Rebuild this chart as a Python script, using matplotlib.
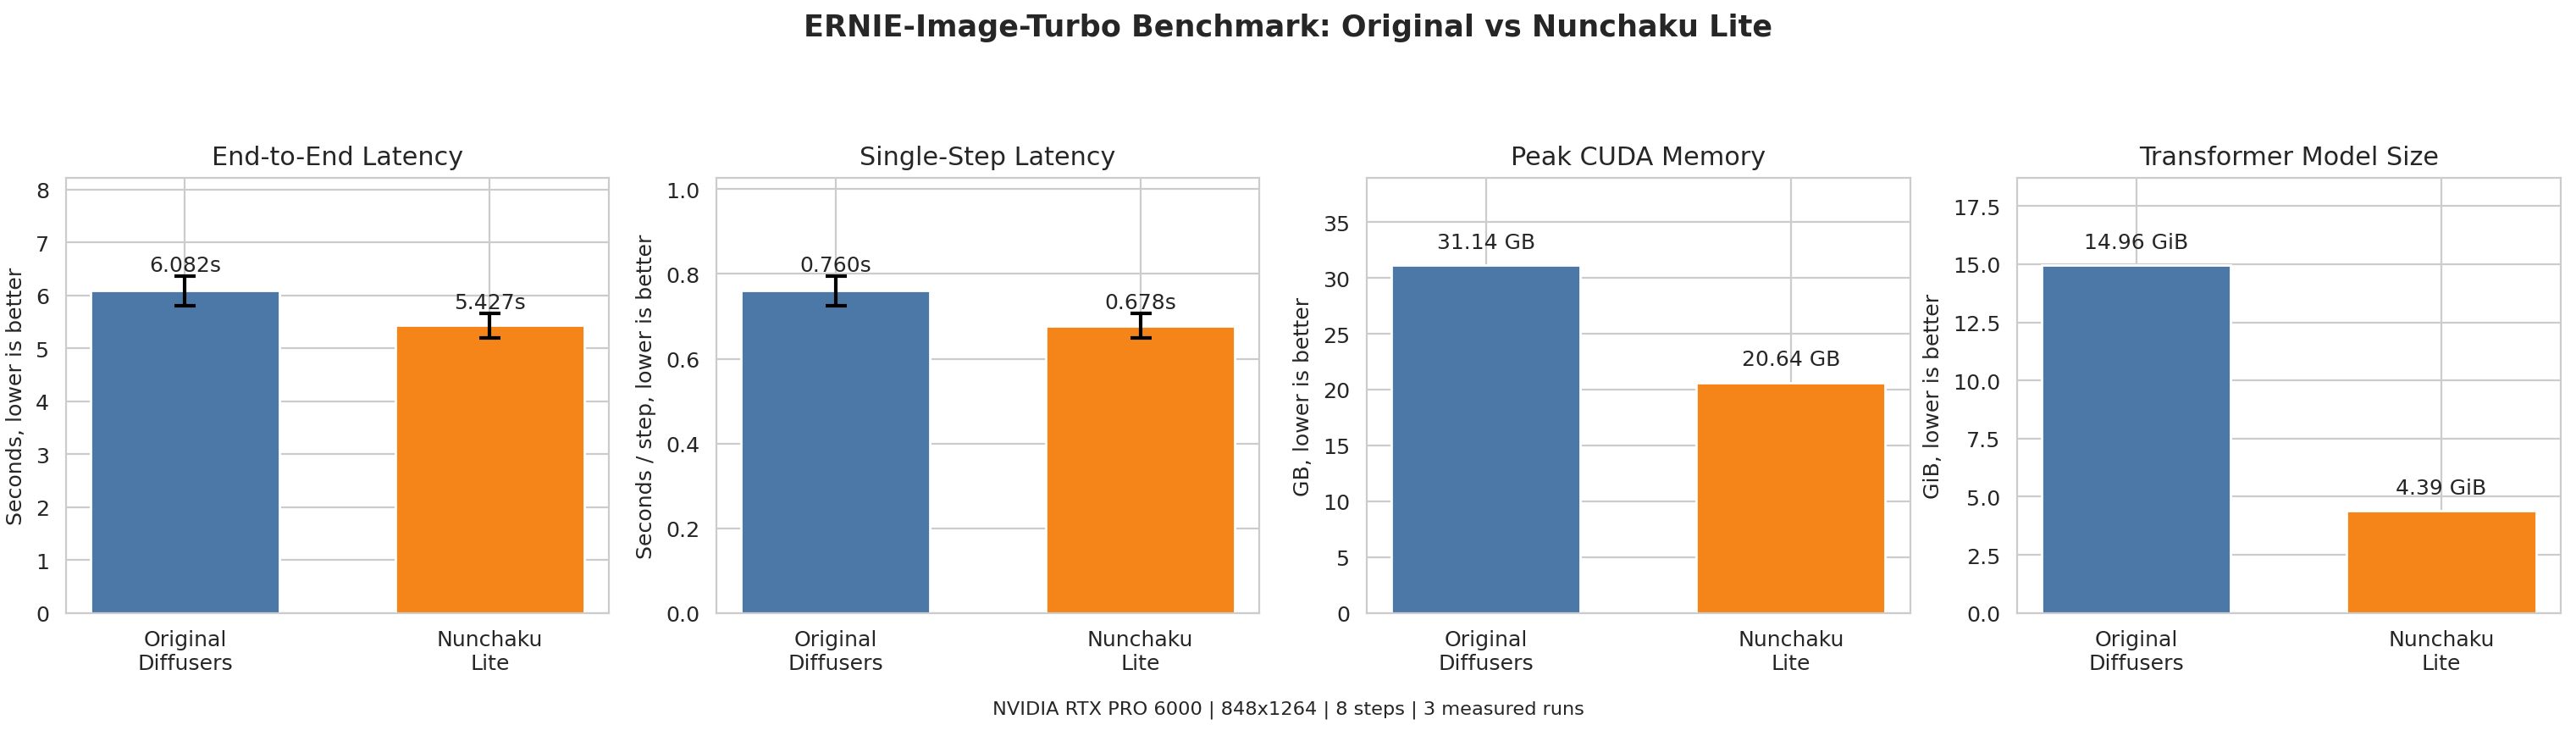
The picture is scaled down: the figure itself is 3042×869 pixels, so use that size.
import matplotlib
matplotlib.use("Agg")
import matplotlib.pyplot as plt
import seaborn as sns

sns.set_style("whitegrid")
plt.rcParams['font.family'] = ['DejaVu Sans']

labels = ["Original\nDiffusers", "Nunchaku\nLite"]
colors = ["#4C78A8", "#F58518"]

e2e_mean = [6.082, 5.427]
e2e_err = [0.28, 0.225]
step_mean = [0.760, 0.678]
step_err = [0.035, 0.0285]
mem_gb = [31.14, 20.64]
size_gib = [14.96, 4.39]

titles = ["End-to-End Latency", "Single-Step Latency", "Peak CUDA Memory", "Transformer Model Size"]
ylabels = ["Seconds, lower is better", "Seconds / step, lower is better", "GB, lower is better", "GiB, lower is better"]

fig, axes = plt.subplots(1, 4, figsize=(15.21, 4.35), dpi=200)
fig.subplots_adjust(left=0.0255, right=0.994, top=0.757, bottom=0.167, wspace=0.197)

x = list(range(len(labels)))
TICK = 9.1
VAL = 9.0

def style(ax, title, ylabel):
    ax.set_title(title, fontsize=10.9, pad=6)
    ax.set_ylabel(ylabel, fontsize=9.1)
    ax.set_xticks(x)
    ax.set_xticklabels(labels, fontsize=TICK)
    ax.tick_params(axis='y', labelsize=TICK)

# Latency panels
for ax, means, errs, fmt, t, yl in [
    (axes[0], e2e_mean, e2e_err, "{:.3f}s", titles[0], ylabels[0]),
    (axes[1], step_mean, step_err, "{:.3f}s", titles[1], ylabels[1]),
]:
    ax.bar(x, means, width=0.62, color=colors, yerr=errs, capsize=4.5,
           error_kw=dict(elinewidth=1.5, capthick=1.5, ecolor='black'), zorder=2)
    top = max(means) * 1.35
    ax.set_ylim(0, top)
    for xi, m, e in zip(x, means, errs):
        ax.text(xi, m + e + top * 0.002, fmt.format(m), ha='center', va='bottom', fontsize=VAL)
    style(ax, t, yl)

for ax, vals, unit, t, yl in [
    (axes[2], mem_gb, "GB", titles[2], ylabels[2]),
    (axes[3], size_gib, "GiB", titles[3], ylabels[3]),
]:
    ax.bar(x, vals, width=0.62, color=colors, zorder=2)
    top = max(vals) * 1.25
    ax.set_ylim(0, top)
    for xi, v in zip(x, vals):
        ax.text(xi, v + top * 0.03, f"{v:.2f} {unit}", ha='center', va='bottom', fontsize=VAL)
    style(ax, t, yl)

fig.suptitle("ERNIE-Image-Turbo Benchmark: Original vs Nunchaku Lite", fontsize=12.6,
             fontweight='bold', y=0.962, va='center')
fig.text(0.5, 0.036, "NVIDIA RTX PRO 6000 | 848x1264 | 8 steps | 3 measured runs",
         ha='center', va='center', fontsize=8.1)

fig.savefig("out.png", dpi=200)
